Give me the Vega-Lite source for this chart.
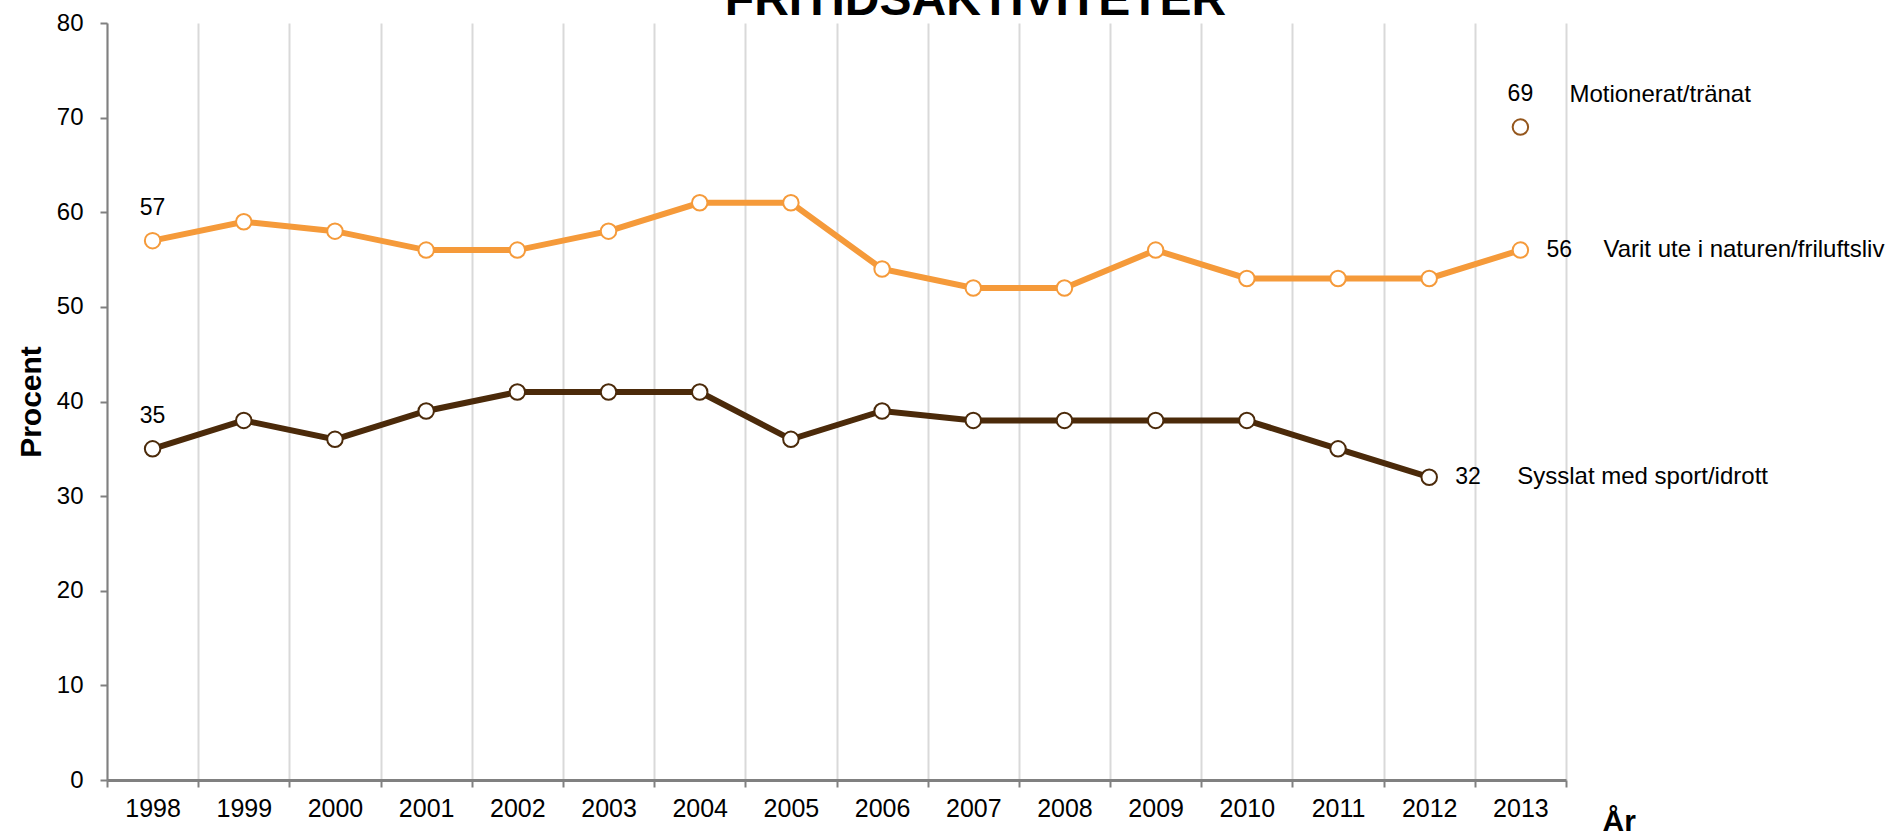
{
  "$schema": "https://vega.github.io/schema/vega-lite/v6.json",
  "autosize": {"type": "none"},
  "padding": {"left": 107, "top": 23, "right": 324, "bottom": 53},
  "width": 1459,
  "height": 757,
  "background": "white",
  "config": {
    "view": {"stroke": null},
    "font": "Liberation Sans",
    "text": {"font": "Liberation Sans", "fontSize": 23, "color": "black"}
  },
  "title": {
    "text": "FRITIDSAKTIVITETER",
    "font": "Liberation Sans",
    "fontSize": 48,
    "fontWeight": "bold",
    "color": "black",
    "anchor": "middle",
    "frame": "group",
    "baseline": "alphabetic",
    "offset": 0,
    "dx": 139,
    "dy": 52
  },
  "datasets": {
    "trend": [
      {"serie": "Varit ute i naturen/friluftsliv", "year": 1998, "value": 57},
      {"serie": "Varit ute i naturen/friluftsliv", "year": 1999, "value": 59},
      {"serie": "Varit ute i naturen/friluftsliv", "year": 2000, "value": 58},
      {"serie": "Varit ute i naturen/friluftsliv", "year": 2001, "value": 56},
      {"serie": "Varit ute i naturen/friluftsliv", "year": 2002, "value": 56},
      {"serie": "Varit ute i naturen/friluftsliv", "year": 2003, "value": 58},
      {"serie": "Varit ute i naturen/friluftsliv", "year": 2004, "value": 61},
      {"serie": "Varit ute i naturen/friluftsliv", "year": 2005, "value": 61},
      {"serie": "Varit ute i naturen/friluftsliv", "year": 2006, "value": 54},
      {"serie": "Varit ute i naturen/friluftsliv", "year": 2007, "value": 52},
      {"serie": "Varit ute i naturen/friluftsliv", "year": 2008, "value": 52},
      {"serie": "Varit ute i naturen/friluftsliv", "year": 2009, "value": 56},
      {"serie": "Varit ute i naturen/friluftsliv", "year": 2010, "value": 53},
      {"serie": "Varit ute i naturen/friluftsliv", "year": 2011, "value": 53},
      {"serie": "Varit ute i naturen/friluftsliv", "year": 2012, "value": 53},
      {"serie": "Varit ute i naturen/friluftsliv", "year": 2013, "value": 56},
      {"serie": "Sysslat med sport/idrott", "year": 1998, "value": 35},
      {"serie": "Sysslat med sport/idrott", "year": 1999, "value": 38},
      {"serie": "Sysslat med sport/idrott", "year": 2000, "value": 36},
      {"serie": "Sysslat med sport/idrott", "year": 2001, "value": 39},
      {"serie": "Sysslat med sport/idrott", "year": 2002, "value": 41},
      {"serie": "Sysslat med sport/idrott", "year": 2003, "value": 41},
      {"serie": "Sysslat med sport/idrott", "year": 2004, "value": 41},
      {"serie": "Sysslat med sport/idrott", "year": 2005, "value": 36},
      {"serie": "Sysslat med sport/idrott", "year": 2006, "value": 39},
      {"serie": "Sysslat med sport/idrott", "year": 2007, "value": 38},
      {"serie": "Sysslat med sport/idrott", "year": 2008, "value": 38},
      {"serie": "Sysslat med sport/idrott", "year": 2009, "value": 38},
      {"serie": "Sysslat med sport/idrott", "year": 2010, "value": 38},
      {"serie": "Sysslat med sport/idrott", "year": 2011, "value": 35},
      {"serie": "Sysslat med sport/idrott", "year": 2012, "value": 32},
      {"serie": "Motionerat/tränat", "year": 2013, "value": 69}
    ]
  },
  "data": {"name": "trend"},
  "encoding": {
    "x": {
      "field": "year",
      "type": "quantitative",
      "scale": {"domain": [1997.5, 2013.5], "nice": false, "zero": false},
      "axis": {
        "title": "År",
        "titleFont": "Liberation Sans",
        "titleFontSize": 30,
        "titleFontWeight": "bold",
        "titleColor": "black",
        "titleAlign": "left",
        "titleBaseline": "alphabetic",
        "titleX": 1495,
        "titleY": 50,
        "values": [1997.5, 1998.5, 1999.5, 2000.5, 2001.5, 2002.5, 2003.5, 2004.5, 2005.5, 2006.5, 2007.5, 2008.5, 2009.5, 2010.5, 2011.5, 2012.5, 2013.5],
        "labelExpr": "datum.value > 2013 ? '' : toString(datum.value + 0.5)",
        "labelOffset": 45.6,
        "labelOverlap": false,
        "labelFlush": false,
        "labelBound": false,
        "labelFont": "Liberation Sans",
        "labelFontSize": 25,
        "labelColor": "black",
        "labelPadding": 9,
        "grid": true,
        "gridColor": "#d9d9d9",
        "gridWidth": 2,
        "domainColor": "#808080",
        "domainWidth": 3,
        "tickColor": "#808080",
        "tickWidth": 2,
        "tickSize": 7
      }
    },
    "y": {
      "field": "value",
      "type": "quantitative",
      "scale": {"domain": [0, 80], "nice": false},
      "axis": {
        "title": "Procent",
        "titleFont": "Liberation Sans",
        "titleFontSize": 30,
        "titleFontWeight": "bold",
        "titleColor": "black",
        "titleAngle": -90,
        "titleAlign": "center",
        "titleBaseline": "alphabetic",
        "titleX": -67,
        "titleY": 378.5,
        "values": [0, 10, 20, 30, 40, 50, 60, 70, 80],
        "grid": false,
        "labelFont": "Liberation Sans",
        "labelFontSize": 24,
        "labelColor": "black",
        "labelPadding": 17,
        "domainColor": "#808080",
        "domainWidth": 2,
        "tickColor": "#808080",
        "tickWidth": 2,
        "tickSize": 7
      }
    },
    "color": {
      "field": "serie",
      "type": "nominal",
      "scale": {
        "domain": ["Varit ute i naturen/friluftsliv", "Sysslat med sport/idrott", "Motionerat/tränat"],
        "range": ["#F59A3A", "#4B2A0A", "#94561C"]
      },
      "legend": null
    }
  },
  "layer": [
    {
      "transform": [{"filter": "datum.serie !== 'Motionerat/tränat'"}],
      "mark": {"type": "line", "strokeWidth": 6}
    },
    {
      "mark": {"type": "point", "shape": "circle", "filled": false, "fill": "white", "fillOpacity": 1, "opacity": 1, "size": 240, "strokeWidth": 2}
    },
    {
      "transform": [{"filter": "datum.year === 1998 || datum.serie === 'Motionerat/tränat'"}],
      "mark": {"type": "text", "align": "center", "baseline": "alphabetic", "dy": -26, "color": "black"},
      "encoding": {"text": {"field": "value", "type": "quantitative"}, "color": {"value": "black"}}
    },
    {
      "transform": [{"filter": "(datum.serie === 'Varit ute i naturen/friluftsliv' && datum.year === 2013) || (datum.serie === 'Sysslat med sport/idrott' && datum.year === 2012)"}],
      "mark": {"type": "text", "align": "left", "baseline": "middle", "dx": 26, "color": "black"},
      "encoding": {"text": {"field": "value", "type": "quantitative"}, "color": {"value": "black"}}
    },
    {
      "transform": [{"filter": "datum.serie === 'Motionerat/tränat'"}],
      "mark": {"type": "text", "align": "left", "baseline": "alphabetic", "dx": 49, "dy": -25, "fontSize": 24, "color": "black"},
      "encoding": {"text": {"field": "serie", "type": "nominal"}, "color": {"value": "black"}}
    },
    {
      "transform": [{"filter": "datum.serie === 'Varit ute i naturen/friluftsliv' && datum.year === 2013"}],
      "mark": {"type": "text", "align": "left", "baseline": "middle", "dx": 83, "fontSize": 24, "color": "black"},
      "encoding": {"text": {"field": "serie", "type": "nominal"}, "color": {"value": "black"}}
    },
    {
      "transform": [{"filter": "datum.serie === 'Sysslat med sport/idrott' && datum.year === 2012"}],
      "mark": {"type": "text", "align": "left", "baseline": "middle", "dx": 88, "fontSize": 24, "color": "black"},
      "encoding": {"text": {"field": "serie", "type": "nominal"}, "color": {"value": "black"}}
    }
  ]
}
